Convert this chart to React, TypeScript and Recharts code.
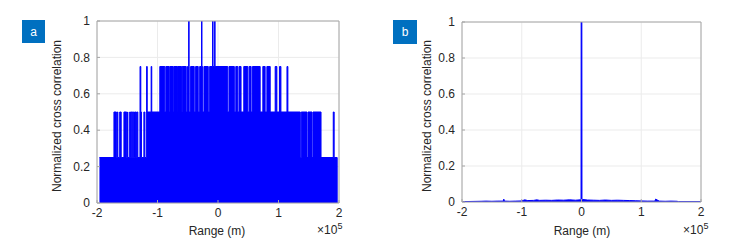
import React from 'react';
import { ComposedChart, Area, XAxis, YAxis, CartesianGrid } from 'recharts';

// ---------- shared axis definitions ----------
const SCALE = 1e5; // ranges below are given in units of 10^5 m
const xTicks = [-2, -1, 0, 1, 2];
const yTicks = [0, 0.2, 0.4, 0.6, 0.8, 1];
const xTickLabels = ['-2', '-1', '0', '1', '2'];
const yTickLabels = ['0', '0.2', '0.4', '0.6', '0.8', '1'];

// ---------- panel a: quantised correlation, intervals (×10^5 m) reaching each level ----------
const levelA025: [number, number][] = [[-1.96, 1.97]];
const levelA050: [number, number][] = [
  [-1.72, -1.68], [-1.665, -1.655], [-1.625, -1.6], [-1.555, -1.51], [-1.495, -1.49],
  [-1.46, -1.445], [-1.435, -1.41], [-1.4, -1.38], [-1.37, -1.355], [-1.345, -1.325],
  [-1.29, -1.265], [-1.225, -1.21], [-1.185, 1.36], [1.376, 1.471], [1.488, 1.554],
  [1.57, 1.703], [1.905, 1.92],
];
const levelA075: [number, number][] = [
  [-1.289, -1.276], [-1.18, -1.17], [-1.105, -1.095],
  [-0.962, -0.879], [-0.862, -0.808], [-0.796, -0.741], [-0.73, -0.675], [-0.668, -0.602],
  [-0.592, -0.525], [-0.505, -0.476], [-0.453, -0.393], [-0.37, -0.327], [-0.303, -0.254],
  [-0.232, -0.161], [-0.138, 0.161], [0.182, 0.27], [0.294, 0.327], [0.348, 0.381],
  [0.426, 0.493], [0.514, 0.547], [0.569, 0.697], [0.741, 0.779], [0.808, 0.863],
  [0.945, 0.973], [1.017, 1.04], [1.14, 1.155],
];
const levelA100: [number, number][] = [
  [-0.485, -0.478], [-0.272, -0.265], [-0.09, -0.084], [-0.062, -0.048],
];

// ---------- panel b: near-zero sidelobes and the main peak ----------
const rangeB = [
  -2, -1.68, -1.6, -1.5, -1.4, -1.31, -1.3, -1.29, -1.2, -1.1,
  -1.0, -0.95, -0.9, -0.8, -0.75, -0.7, -0.6, -0.5, -0.4, -0.3,
  -0.2, -0.1, -0.02, -0.008, -0.006, 0.006, 0.008, 0.02, 0.1, 0.2, 0.3,
  0.4, 0.5, 0.6, 0.7, 0.8, 0.9, 1.0, 1.1, 1.2, 1.23,
  1.24, 1.3, 1.4, 1.5, 1.6, 1.62, 2,
];
const corrB = [
  0.002, 0.004, 0.005, 0.004, 0.005, 0.005, 0.016, 0.005, 0.004, 0.005,
  0.006, 0.012, 0.008, 0.009, 0.012, 0.009, 0.01, 0.009, 0.011, 0.01,
  0.012, 0.01, 0.012, 0.01, 1, 1, 0.01, 0.014, 0.011, 0.01, 0.009,
  0.011, 0.009, 0.01, 0.009, 0.008, 0.007, 0.006, 0.005, 0.005, 0.005,
  0.016, 0.005, 0.004, 0.005, 0.004, 0.002, 0.002,
];

// ---------- data building ----------
function buildStepData(levels: [number, [number, number][]][]) {
  const edges = new Set<number>();
  levels.forEach(([, segs]) => segs.forEach(([a, b]) => { edges.add(a); edges.add(b); }));
  const xs = Array.from(edges).sort((a, b) => a - b);
  return xs.map((x) => {
    let v = 0;
    levels.forEach(([lvl, segs]) => segs.forEach(([a, b]) => {
      if (x >= a && x < b) v = Math.max(v, lvl);
    }));
    return { range: x * SCALE, corr: v };
  });
}

const dataA = buildStepData([
  [0.25, levelA025], [0.5, levelA050], [0.75, levelA075], [1, levelA100],
]);
const dataB = rangeB.map((r, i) => ({ range: r * SCALE, corr: corrB[i] }));

const FONT = '"Liberation Sans", Arial, Helvetica, sans-serif';
const FRAME = '#a6a6a6';
const BLUE = '#0000ff';
const xTickVals = xTicks.map((t) => t * SCALE);
const fmtX = (v: number) => xTickLabels[xTickVals.indexOf(v)] ?? String(v / SCALE);
const fmtY = (v: number) => yTickLabels[yTicks.indexOf(v)] ?? String(v);
const tickStyle = { fill: '#262626', fontSize: 12, fontFamily: FONT };

type PanelProps = {
  data: { range: number; corr: number }[];
  left: number;
  width: number;
  margin: { top: number; left: number; right: number; bottom: number };
  step: boolean;
};

function Panel({ data, left, width, margin, step }: PanelProps) {
  // axes take 1px each, so subtract it from the margins
  const m = { top: margin.top - 1, left: margin.left - 1, right: margin.right - 1, bottom: margin.bottom - 1 };
  return (
    <div style={{ position: 'absolute', left, top: 0 }}>
      <ComposedChart width={width} height={241} data={data} margin={m}>
        <CartesianGrid xAxisId="b" yAxisId="l" stroke="#ebebeb" />
        <Area
          xAxisId="b"
          yAxisId="l"
          dataKey="corr"
          type={step ? 'stepAfter' : 'linear'}
          stroke={BLUE}
          strokeWidth={1}
          fill={BLUE}
          fillOpacity={1}
          isAnimationActive={false}
          dot={false}
          activeDot={false}
        />
        <XAxis
          xAxisId="b"
          dataKey="range"
          type="number"
          domain={[-2 * SCALE, 2 * SCALE]}
          ticks={xTickVals}
          tickFormatter={fmtX}
          height={1}
          tickSize={-3}
          tickMargin={8}
          stroke={FRAME}
          tick={tickStyle}
          allowDataOverflow
          interval={0}
        />
        <XAxis
          xAxisId="t"
          orientation="top"
          dataKey="range"
          type="number"
          domain={[-2 * SCALE, 2 * SCALE]}
          ticks={xTickVals}
          height={1}
          tickSize={-3}
          stroke={FRAME}
          tick={false}
          allowDataOverflow
        />
        <YAxis
          yAxisId="l"
          type="number"
          domain={[0, 1]}
          ticks={yTicks}
          tickFormatter={fmtY}
          width={1}
          tickSize={-3}
          tickMargin={10}
          stroke={FRAME}
          tick={tickStyle}
          allowDataOverflow
          interval={0}
        />
        <YAxis
          yAxisId="r"
          orientation="right"
          type="number"
          domain={[0, 1]}
          ticks={yTicks}
          width={1}
          tickSize={-3}
          stroke={FRAME}
          tick={false}
          allowDataOverflow
        />
      </ComposedChart>
    </div>
  );
}

function Labels() {
  const t = { fontFamily: FONT, fill: '#262626' };
  return (
    <svg width={729} height={241} style={{ position: 'absolute', left: 0, top: 0, pointerEvents: 'none' }}>
      <rect x={22} y={20} width={23} height={23} fill="#0070c0" />
      <text x={33.5} y={35.5} textAnchor="middle" fontSize={12} fill="#ffffff" fontFamily={FONT}>a</text>
      <rect x={393} y={20} width={24} height={24} fill="#0070c0" />
      <text x={405} y={36} textAnchor="middle" fontSize={12} fill="#ffffff" fontFamily={FONT}>b</text>

      <text transform="translate(61,116) rotate(-90)" textAnchor="middle" fontSize={12} {...t}>Normalized cross correlation</text>
      <text transform="translate(431,116) rotate(-90)" textAnchor="middle" fontSize={12} {...t}>Normalized cross correlation</text>

      <text x={217} y={235} textAnchor="middle" fontSize={12} {...t}>Range (m)</text>
      <text x={582} y={235} textAnchor="middle" fontSize={12} {...t}>Range (m)</text>

      <text x={317} y={234} fontSize={12} {...t}>×10</text>
      <text x={337.5} y={229} fontSize={9} {...t}>5</text>
      <text x={683} y={234} fontSize={12} {...t}>×10</text>
      <text x={703.5} y={229} fontSize={9} {...t}>5</text>
    </svg>
  );
}

export default function App() {
  return (
    <div style={{ position: 'absolute', left: 0, top: 0, width: 729, height: 241, background: '#ffffff', overflow: 'hidden' }}>
      <Panel data={dataA} left={0} width={360} step margin={{ top: 21, left: 97, right: 21, bottom: 38 }} />
      <Panel data={dataB} left={370} width={359} step={false} margin={{ top: 22, left: 92, right: 28, bottom: 39 }} />
      <Labels />
    </div>
  );
}
